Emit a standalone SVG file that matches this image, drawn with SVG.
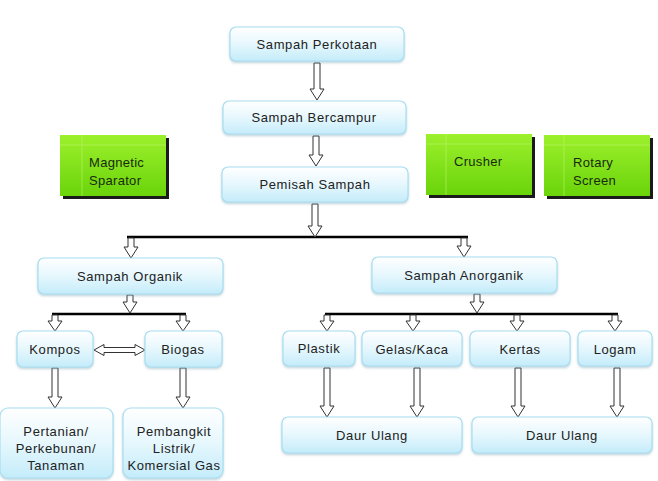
<svg xmlns="http://www.w3.org/2000/svg" width="658" height="481" viewBox="0 0 658 481">
<style>
.box{fill:url(#blueG);stroke:#a9def2;stroke-width:1.2}
.gbox{fill:url(#greenG)}
.gshadow{fill:#1a1a1a}
.gline{stroke:#b8f56a;stroke-width:1;opacity:0.6}
.t{font-family:"Liberation Sans",Arial,sans-serif;font-size:13px;fill:#222;text-anchor:middle;letter-spacing:0.6px}
.tg{font-family:"Liberation Sans",Arial,sans-serif;font-size:13px;fill:#1a2a10;letter-spacing:0.3px}
.arr{fill:#fff;stroke:#333;stroke-width:1}
.bar{stroke:#000;stroke-width:2.5;fill:none}
</style>
<defs>
<linearGradient id="blueG" x1="0" y1="0" x2="0" y2="1">
<stop offset="0" stop-color="#ffffff"/>
<stop offset="0.5" stop-color="#e6f7fd"/>
<stop offset="1" stop-color="#c4ecfa"/>
</linearGradient>
<linearGradient id="greenG" x1="0" y1="0" x2="0" y2="1">
<stop offset="0" stop-color="#9cf02c"/>
<stop offset="1" stop-color="#6ad40a"/>
</linearGradient>
<filter id="sh" x="-10%" y="-10%" width="120%" height="130%">
<feDropShadow dx="0" dy="1.5" stdDeviation="1.2" flood-color="#7fa7b5" flood-opacity="0.5"/>
</filter>
</defs>

<g id="connectors">
<path class="bar" d="M127,237 H468"/>
<path class="bar" d="M52,314 H186"/>
<path class="bar" d="M325,314 H618"/>
<path class="arr" d="M314,63 H320 V89 H324 L317,100 L310,89 H314 Z"/>
<path class="arr" d="M313,136 H319 V155 H323 L316,166 L309,155 H313 Z"/>
<path class="arr" d="M312,204 H318 V226 H322 L315,237 L308,226 H312 Z"/>
<path class="arr" d="M128,238 H134 V247 H138 L131,258 L124,247 H128 Z"/>
<path class="arr" d="M461,238 H467 V246 H471 L464,257 L457,246 H461 Z"/>
<path class="arr" d="M127,295 H133 V302 H137 L130,313 L123,302 H127 Z"/>
<path class="arr" d="M474,294 H480 V302 H484 L477,313 L470,302 H474 Z"/>
<path class="arr" d="M52,315 H58 V321 H62 L55,331 L48,321 H52 Z"/>
<path class="arr" d="M180,315 H186 V321 H190 L183,331 L176,321 H180 Z"/>
<path class="arr" d="M324,315 H330 V321 H334 L327,331 L320,321 H324 Z"/>
<path class="arr" d="M410,315 H416 V321 H420 L413,331 L406,321 H410 Z"/>
<path class="arr" d="M514,315 H520 V321 H524 L517,331 L510,321 H514 Z"/>
<path class="arr" d="M612,315 H618 V321 H622 L615,331 L608,321 H612 Z"/>
<path class="arr" d="M94,350 L104,344.5 V347.5 H135 V344.5 L145,350 L135,355.5 V352.5 H104 V355.5 Z"/>
<path class="arr" d="M52,368 H58 V397 H62 L55,408 L48,397 H52 Z"/>
<path class="arr" d="M180,368 H186 V397 H190 L183,408 L176,397 H180 Z"/>
<path class="arr" d="M324,368 H330 V406 H334 L327,417 L320,406 H324 Z"/>
<path class="arr" d="M414,368 H420 V406 H424 L417,417 L410,406 H414 Z"/>
<path class="arr" d="M515,368 H521 V406 H525 L518,417 L511,406 H515 Z"/>
<path class="arr" d="M614,368 H620 V406 H624 L617,417 L610,406 H614 Z"/>
</g>

<g id="n-perkotaan"><rect class="box" filter="url(#sh)" x="230" y="27" width="174" height="34" rx="6"/><text class="t" x="317" y="49">Sampah Perkotaan</text></g>
<g id="n-bercampur"><rect class="box" filter="url(#sh)" x="223" y="101" width="183" height="33" rx="6"/><text class="t" x="314" y="122">Sampah Bercampur</text></g>
<g id="n-pemisah"><rect class="box" filter="url(#sh)" x="222" y="167" width="186" height="35" rx="6"/><text class="t" x="315" y="189">Pemisah Sampah</text></g>

<g id="n-magnetic"><rect class="gshadow" x="63" y="138" width="106" height="61"/><rect class="gbox" x="60" y="135" width="106" height="61"/><path class="gline" d="M82,135 V196 M60,145 H166"/><text class="tg" x="89" y="167">Magnetic</text><text class="tg" x="89" y="185">Sparator</text></g>
<g id="n-crusher"><rect class="gshadow" x="429" y="137" width="106" height="61"/><rect class="gbox" x="426" y="134" width="106" height="61"/><path class="gline" d="M446,134 V195 M426,144 H532"/><text class="tg" x="454" y="166">Crusher</text></g>
<g id="n-rotary"><rect class="gshadow" x="547" y="138" width="106" height="61"/><rect class="gbox" x="544" y="135" width="106" height="61"/><path class="gline" d="M564,135 V196 M544,145 H650"/><text class="tg" x="573" y="167">Rotary</text><text class="tg" x="573" y="185">Screen</text></g>

<g id="n-organik"><rect class="box" filter="url(#sh)" x="38" y="258" width="185" height="36" rx="6"/><text class="t" x="130" y="281">Sampah Organik</text></g>
<g id="n-anorganik"><rect class="box" filter="url(#sh)" x="372" y="257" width="185" height="36" rx="6"/><text class="t" x="464" y="280">Sampah Anorganik</text></g>

<g id="n-kompos"><rect class="box" filter="url(#sh)" x="17" y="331" width="76" height="36" rx="6"/><text class="t" x="55" y="354">Kompos</text></g>
<g id="n-biogas"><rect class="box" filter="url(#sh)" x="145" y="331" width="77" height="36" rx="6"/><text class="t" x="183" y="354">Biogas</text></g>
<g id="n-plastik"><rect class="box" filter="url(#sh)" x="283" y="331" width="72" height="35" rx="6"/><text class="t" x="319" y="353">Plastik</text></g>
<g id="n-gelas"><rect class="box" filter="url(#sh)" x="362" y="331" width="100" height="35" rx="6"/><text class="t" x="412" y="354">Gelas/Kaca</text></g>
<g id="n-kertas"><rect class="box" filter="url(#sh)" x="470" y="331" width="100" height="35" rx="6"/><text class="t" x="520" y="354">Kertas</text></g>
<g id="n-logam"><rect class="box" filter="url(#sh)" x="578" y="331" width="74" height="35" rx="6"/><text class="t" x="615" y="354">Logam</text></g>

<g id="n-pertanian"><rect class="box" filter="url(#sh)" x="0" y="408" width="113" height="70" rx="8"/><text class="t" x="56" y="436">Pertanian/</text><text class="t" x="56" y="453">Perkebunan/</text><text class="t" x="56" y="470">Tanaman</text></g>
<g id="n-pembangkit"><rect class="box" filter="url(#sh)" x="123" y="408" width="100" height="70" rx="8"/><text class="t" x="174" y="436">Pembangkit</text><text class="t" x="174" y="453">Listrik/</text><text class="t" x="174" y="470">Komersial Gas</text></g>

<g id="n-daur1"><rect class="box" filter="url(#sh)" x="282" y="417" width="180" height="36" rx="6"/><text class="t" x="372" y="440">Daur Ulang</text></g>
<g id="n-daur2"><rect class="box" filter="url(#sh)" x="472" y="417" width="180" height="36" rx="6"/><text class="t" x="562" y="440">Daur Ulang</text></g>
</svg>
